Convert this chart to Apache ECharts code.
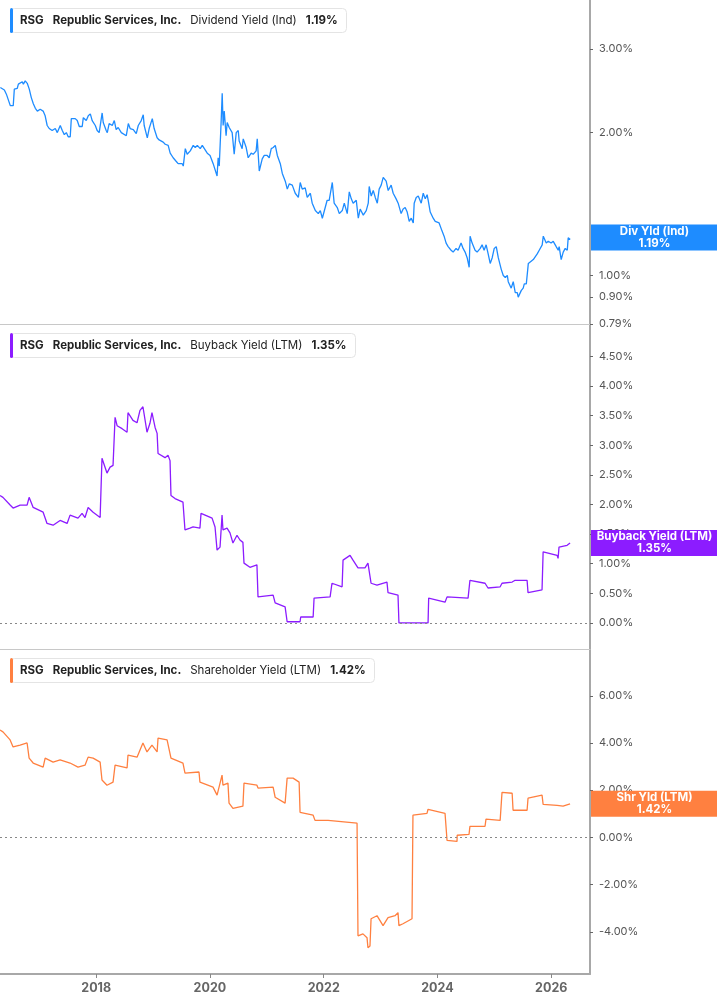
<!DOCTYPE html>
<html>
<head>
<meta charset="utf-8">
<script src="https://cdn.jsdelivr.net/npm/echarts@6/dist/echarts.min.js"></script>
<style>
  html, body { margin: 0; padding: 0; background: #fff; }
  #chart { width: 717px; height: 1005px; }
</style>
</head>
<body>
<div id="chart"></div>
<script>
var ticker = 'RSG';
var company = 'Republic Services, Inc.';

// ticks
var divTicks = [3, 2, 1, 0.9, 0.79];
var buyTicks = [0, 0.5, 1, 1.5, 2, 2.5, 3, 3.5, 4, 4.5];
var shrTicks = [-4, -2, 0, 2, 4, 6];
var yearStep = 2; // years between x labels

// Dividend Yield (Ind), %
var dividendYield = [
  ['2016-04-25', 2.49], ['2016-05-06', 2.51], ['2016-05-21', 2.46], ['2016-06-03', 2.41], ['2016-06-15', 2.40],
  ['2016-06-28', 2.28], ['2016-07-17', 2.28], ['2016-07-24', 2.47], ['2016-08-12', 2.48], ['2016-08-19', 2.53],
  ['2016-08-31', 2.51], ['2016-09-13', 2.56], ['2016-09-20', 2.53], ['2016-10-02', 2.57], ['2016-10-15', 2.54],
  ['2016-10-28', 2.47], ['2016-11-10', 2.37], ['2016-11-23', 2.30], ['2016-12-06', 2.25], ['2016-12-19', 2.22],
  ['2017-01-06', 2.24], ['2017-01-25', 2.22], ['2017-02-07', 2.17], ['2017-02-20', 2.07], ['2017-03-05', 2.04],
  ['2017-03-24', 2.02], ['2017-04-13', 2.04], ['2017-04-26', 2.00], ['2017-05-15', 2.07], ['2017-05-28', 2.02],
  ['2017-06-10', 1.98], ['2017-06-23', 2.00], ['2017-07-05', 1.96], ['2017-07-18', 1.96], ['2017-07-25', 2.14],
  ['2017-08-19', 2.14], ['2017-09-01', 2.12], ['2017-09-14', 2.06], ['2017-10-03', 2.06], ['2017-10-10', 2.15],
  ['2017-10-29', 2.12], ['2017-11-11', 2.17], ['2017-11-24', 2.19], ['2017-12-06', 2.12], ['2017-12-26', 2.07],
  ['2018-01-07', 2.02], ['2018-01-20', 2.00], ['2018-02-08', 2.20], ['2018-02-15', 2.10], ['2018-03-06', 2.02],
  ['2018-03-13', 2.00], ['2018-03-25', 2.09], ['2018-04-14', 2.07], ['2018-04-27', 2.12], ['2018-05-09', 2.03],
  ['2018-05-22', 2.05], ['2018-06-11', 2.00], ['2018-06-23', 1.99], ['2018-07-13', 1.97], ['2018-07-26', 2.09],
  ['2018-08-07', 2.04], ['2018-08-27', 2.03], ['2018-09-15', 1.99], ['2018-09-28', 2.07], ['2018-10-17', 2.12],
  ['2018-10-30', 2.18], ['2018-11-05', 2.07], ['2018-11-25', 1.95], ['2018-12-07', 2.04], ['2018-12-27', 2.14],
  ['2019-01-08', 2.04], ['2019-01-27', 1.95], ['2019-02-09', 1.93], ['2019-03-07', 1.91], ['2019-03-20', 1.89],
  ['2019-04-08', 1.88], ['2019-04-21', 1.81], ['2019-05-10', 1.77], ['2019-05-29', 1.74], ['2019-06-11', 1.72],
  ['2019-07-07', 1.72], ['2019-07-14', 1.70], ['2019-07-27', 1.85], ['2019-08-08', 1.80], ['2019-08-28', 1.83],
  ['2019-09-16', 1.88], ['2019-09-29', 1.86], ['2019-10-12', 1.88], ['2019-10-31', 1.85], ['2019-11-13', 1.88],
  ['2019-12-15', 1.81], ['2020-01-02', 1.79], ['2020-01-22', 1.72], ['2020-02-16', 1.62], ['2020-02-23', 1.77],
  ['2020-03-01', 1.70], ['2020-03-13', 2.10], ['2020-03-20', 2.42], ['2020-03-26', 2.07], ['2020-04-02', 2.22],
  ['2020-04-14', 1.97], ['2020-04-21', 2.10], ['2020-05-04', 2.05], ['2020-05-23', 2.00], ['2020-06-05', 1.80],
  ['2020-06-18', 2.00], ['2020-07-01', 2.02], ['2020-07-07', 1.92], ['2020-07-26', 1.85], ['2020-08-02', 1.94],
  ['2020-08-21', 1.86], ['2020-09-03', 1.77], ['2020-09-22', 1.81], ['2020-10-05', 1.80], ['2020-10-24', 1.83],
  ['2020-10-31', 1.94], ['2020-11-13', 1.66], ['2020-12-02', 1.76], ['2020-12-15', 1.79], ['2021-01-03', 1.79],
  ['2021-01-16', 1.77], ['2021-01-29', 1.85], ['2021-02-11', 1.86], ['2021-02-24', 1.88], ['2021-03-09', 1.79],
  ['2021-03-28', 1.72], ['2021-04-10', 1.64], ['2021-04-29', 1.58], ['2021-05-12', 1.52], ['2021-05-25', 1.56],
  ['2021-06-13', 1.55], ['2021-07-02', 1.49], ['2021-07-22', 1.46], ['2021-08-03', 1.57], ['2021-08-16', 1.52],
  ['2021-09-04', 1.53], ['2021-09-17', 1.46], ['2021-10-07', 1.49], ['2021-10-19', 1.42], ['2021-11-08', 1.37],
  ['2021-11-27', 1.35], ['2021-12-10', 1.37], ['2021-12-23', 1.32], ['2022-01-04', 1.32], ['2022-01-23', 1.44],
  ['2022-02-05', 1.44], ['2022-02-25', 1.57], ['2022-03-09', 1.42], ['2022-03-29', 1.39], ['2022-04-11', 1.35],
  ['2022-04-30', 1.37], ['2022-05-13', 1.42], ['2022-06-01', 1.35], ['2022-06-14', 1.50], ['2022-06-27', 1.45],
  ['2022-07-09', 1.42], ['2022-07-29', 1.44], ['2022-08-11', 1.32], ['2022-08-23', 1.38], ['2022-09-12', 1.34],
  ['2022-10-01', 1.37], ['2022-10-14', 1.42], ['2022-10-20', 1.54], ['2022-11-02', 1.47], ['2022-11-15', 1.51],
  ['2022-11-28', 1.46], ['2022-12-11', 1.42], ['2022-12-23', 1.52], ['2023-01-05', 1.55], ['2023-01-18', 1.61],
  ['2023-02-06', 1.58], ['2023-02-19', 1.51], ['2023-03-10', 1.55], ['2023-03-23', 1.49], ['2023-04-11', 1.45],
  ['2023-04-24', 1.42], ['2023-05-13', 1.35], ['2023-05-26', 1.38], ['2023-06-08', 1.39], ['2023-06-21', 1.36],
  ['2023-07-04', 1.30], ['2023-07-17', 1.32], ['2023-07-30', 1.29], ['2023-08-05', 1.42], ['2023-08-18', 1.46],
  ['2023-08-31', 1.47], ['2023-09-19', 1.42], ['2023-10-02', 1.49], ['2023-10-15', 1.45], ['2023-10-27', 1.48],
  ['2023-11-03', 1.44], ['2023-11-16', 1.36], ['2023-12-05', 1.32], ['2023-12-18', 1.30], ['2023-12-30', 1.29],
  ['2024-01-12', 1.29], ['2024-01-31', 1.24], ['2024-02-13', 1.21], ['2024-02-26', 1.17], ['2024-03-10', 1.15],
  ['2024-03-29', 1.13], ['2024-04-11', 1.12], ['2024-04-30', 1.14], ['2024-05-13', 1.13], ['2024-06-01', 1.17],
  ['2024-06-14', 1.14], ['2024-06-27', 1.12], ['2024-07-10', 1.09], ['2024-07-23', 1.04], ['2024-07-29', 1.21],
  ['2024-08-11', 1.17], ['2024-08-30', 1.13], ['2024-09-12', 1.12], ['2024-10-02', 1.14], ['2024-10-14', 1.16],
  ['2024-10-27', 1.13], ['2024-11-09', 1.16], ['2024-11-22', 1.11], ['2024-12-05', 1.06], ['2024-12-18', 1.09],
  ['2024-12-31', 1.14], ['2025-01-13', 1.15], ['2025-01-26', 1.09], ['2025-02-14', 1.03], ['2025-02-27', 1.00],
  ['2025-03-12', 0.99], ['2025-03-25', 1.00], ['2025-03-31', 0.97], ['2025-04-19', 0.94], ['2025-05-02', 0.97],
  ['2025-05-15', 0.92], ['2025-05-28', 0.92], ['2025-06-03', 0.90], ['2025-06-23', 0.93], ['2025-07-05', 0.94],
  ['2025-07-12', 0.96], ['2025-07-25', 0.96], ['2025-08-07', 1.06], ['2025-08-19', 1.06], ['2025-09-08', 1.08],
  ['2025-09-20', 1.09], ['2025-10-03', 1.11], ['2025-10-16', 1.13], ['2025-11-04', 1.16], ['2025-11-11', 1.21],
  ['2025-11-30', 1.17], ['2025-12-13', 1.18], ['2025-12-31', 1.17], ['2026-01-14', 1.18], ['2026-02-02', 1.15],
  ['2026-02-15', 1.13], ['2026-02-21', 1.15], ['2026-03-06', 1.08], ['2026-03-19', 1.12], ['2026-04-01', 1.14],
  ['2026-04-14', 1.13], ['2026-04-20', 1.20], ['2026-05-03', 1.19]
];

// Buyback Yield (LTM), %
var buybackYield = [
  ['2016-04-23', 2.15], ['2016-05-12', 2.12], ['2016-06-27', 1.99], ['2016-07-16', 1.94], ['2016-08-30', 1.99],
  ['2016-10-14', 1.99], ['2016-10-27', 2.12], ['2016-11-22', 1.95], ['2017-01-25', 1.87], ['2017-02-19', 1.68],
  ['2017-03-30', 1.65], ['2017-05-14', 1.73], ['2017-06-28', 1.68], ['2017-07-17', 1.82], ['2017-09-06', 1.77],
  ['2017-10-02', 1.85], ['2017-10-21', 1.78], ['2017-11-10', 1.95], ['2017-12-12', 1.87], ['2018-01-26', 1.78],
  ['2018-02-07', 2.78], ['2018-03-11', 2.53], ['2018-03-31', 2.63], ['2018-04-19', 2.66], ['2018-05-02', 3.47],
  ['2018-05-15', 3.33], ['2018-06-16', 3.28], ['2018-07-18', 3.22], ['2018-07-24', 3.55], ['2018-08-25', 3.42],
  ['2018-09-20', 3.38], ['2018-10-09', 3.59], ['2018-10-28', 3.65], ['2018-11-23', 3.22], ['2018-12-12', 3.37],
  ['2018-12-25', 3.55], ['2019-01-14', 3.30], ['2019-01-27', 3.20], ['2019-02-02', 2.86], ['2019-03-19', 2.79],
  ['2019-04-07', 2.83], ['2019-04-20', 2.74], ['2019-04-26', 2.15], ['2019-05-22', 2.10], ['2019-07-12', 2.04],
  ['2019-07-25', 1.57], ['2019-08-26', 1.60], ['2019-09-15', 1.62], ['2019-10-29', 1.60], ['2019-11-05', 1.85],
  ['2020-01-15', 1.77], ['2020-02-03', 1.62], ['2020-02-16', 1.23], ['2020-03-06', 1.28], ['2020-03-19', 1.82],
  ['2020-03-25', 1.57], ['2020-04-20', 1.60], ['2020-05-09', 1.52], ['2020-05-28', 1.35], ['2020-06-23', 1.48],
  ['2020-07-12', 1.40], ['2020-07-31', 1.36], ['2020-08-07', 1.01], ['2020-09-14', 0.94], ['2020-10-29', 0.98],
  ['2020-11-05', 0.44], ['2021-02-10', 0.47], ['2021-02-23', 0.34], ['2021-04-28', 0.27], ['2021-05-11', 0.02],
  ['2021-08-02', 0.02], ['2021-08-06', 0.10], ['2021-10-25', 0.10], ['2021-10-31', 0.42], ['2022-02-11', 0.44],
  ['2022-02-23', 0.67], ['2022-04-29', 0.61], ['2022-05-05', 1.06], ['2022-06-19', 1.14], ['2022-07-08', 1.06],
  ['2022-08-09', 0.93], ['2022-09-23', 0.93], ['2022-10-12', 1.01], ['2022-11-01', 0.67], ['2022-12-09', 0.64],
  ['2023-02-11', 0.69], ['2023-02-18', 0.51], ['2023-04-23', 0.47], ['2023-04-29', 0.00], ['2023-11-02', 0.00],
  ['2023-11-06', 0.42], ['2024-02-19', 0.35], ['2024-03-03', 0.44], ['2024-07-16', 0.42], ['2024-07-28', 0.72],
  ['2024-11-02', 0.67], ['2024-11-21', 0.59], ['2025-02-07', 0.61], ['2025-02-19', 0.67], ['2025-04-25', 0.69],
  ['2025-05-14', 0.72], ['2025-07-30', 0.72], ['2025-08-05', 0.51], ['2025-11-03', 0.56], ['2025-11-10', 1.20],
  ['2026-02-08', 1.14], ['2026-02-14', 1.09], ['2026-02-20', 1.28], ['2026-04-13', 1.31], ['2026-05-02', 1.35]
];

// Shareholder Yield (LTM), %
var shareholderYield = [
  ['2016-04-23', 4.55], ['2016-05-12', 4.47], ['2016-06-27', 4.13], ['2016-07-16', 3.83], ['2016-08-30', 3.91],
  ['2016-10-14', 4.00], ['2016-10-27', 3.36], ['2016-11-22', 3.15], ['2017-01-25', 2.98], ['2017-02-07', 3.36],
  ['2017-03-30', 3.19], ['2017-05-14', 3.28], ['2017-07-17', 3.15], ['2017-09-06', 2.98], ['2017-10-21', 3.06],
  ['2017-11-10', 3.40], ['2017-12-12', 3.36], ['2018-01-26', 3.19], ['2018-02-07', 2.43], ['2018-03-11', 2.21],
  ['2018-04-19', 2.34], ['2018-05-02', 3.06], ['2018-07-18', 2.94], ['2018-07-24', 3.49], ['2018-09-20', 3.40],
  ['2018-10-28', 4.00], ['2018-11-23', 3.62], ['2018-12-25', 3.91], ['2019-01-27', 3.62], ['2019-02-02', 4.21],
  ['2019-04-01', 4.13], ['2019-04-07', 4.21], ['2019-04-26', 3.36], ['2019-07-12', 3.15], ['2019-07-25', 2.72],
  ['2019-10-23', 2.77], ['2019-10-29', 2.34], ['2020-01-21', 2.13], ['2020-02-16', 1.79], ['2020-03-19', 2.64],
  ['2020-03-25', 2.21], ['2020-04-26', 2.30], ['2020-05-03', 1.45], ['2020-05-28', 1.23], ['2020-07-31', 1.32],
  ['2020-08-07', 2.30], ['2020-10-29', 2.21], ['2020-11-05', 2.09], ['2021-02-10', 2.13], ['2021-02-23', 1.70],
  ['2021-04-28', 1.45], ['2021-05-11', 2.51], ['2021-06-18', 2.51], ['2021-07-27', 2.34], ['2021-08-02', 1.06],
  ['2021-10-25', 0.94], ['2021-11-06', 0.72], ['2022-01-29', 0.72], ['2022-08-03', 0.60], ['2022-08-09', -4.17],
  ['2022-09-10', -4.09], ['2022-10-06', -4.25], ['2022-10-12', -4.68], ['2022-10-25', -4.60], ['2022-11-01', -3.45],
  ['2022-12-09', -3.32], ['2023-01-17', -3.74], ['2023-02-18', -3.40], ['2023-04-04', -3.32], ['2023-04-23', -3.19],
  ['2023-04-29', -3.74], ['2023-05-25', -3.66], ['2023-07-22', -3.45], ['2023-07-28', 0.94], ['2023-10-26', 1.02],
  ['2023-11-02', 1.19], ['2024-02-19', 1.02], ['2024-03-03', -0.13], ['2024-05-06', -0.17], ['2024-05-07', 0.09],
  ['2024-07-22', 0.13], ['2024-07-28', 0.47], ['2024-11-02', 0.47], ['2024-11-08', 0.77], ['2025-02-07', 0.72],
  ['2025-02-19', 1.91], ['2025-04-25', 1.87], ['2025-05-01', 1.15], ['2025-07-30', 1.15], ['2025-08-05', 1.66],
  ['2025-11-03', 1.79], ['2025-11-10', 1.40], ['2026-02-08', 1.36], ['2026-03-18', 1.32], ['2026-05-02', 1.42]
];

var BLUE = '#1e8cff', PURPLE = '#8c1cff', ORANGE = '#ff8040';
var FONT = 'Inter, "Noto Sans", sans-serif';
var DAY = 24 * 3600 * 1000;
var last = function (arr) { return arr[arr.length - 1][1]; };
var pct = function (v) { return v.toFixed(2) + '%'; };

function legendTitle(top, color, metric, value) {
  return {
    left: 10,
    top: top,
    text: '{bar|}{g7|}{b|' + ticker + '}{g|}{b|' + company + '}{g|}{n|' + metric + '}{g|}{b|' + value + '}',
    backgroundColor: '#fff',
    borderColor: '#e4e4e4',
    borderWidth: 1,
    borderRadius: 4,
    padding: [0, 9, 0, 0],
    textStyle: {
      rich: {
        bar: { width: 3, height: 25, backgroundColor: color, borderRadius: 2 },
        g7: { width: 7 },
        g: { width: 9 },
        b: { fontFamily: FONT, fontWeight: 'bold', fontSize: 11.5, color: '#222', lineHeight: 25 },
        n: { fontFamily: FONT, fontWeight: 'normal', fontSize: 11.5, color: '#222', lineHeight: 25 }
      }
    }
  };
}

function endBox(yValue, color, name, value) {
  return {
    yAxis: yValue,
    lineStyle: { color: 'transparent', width: 0 },
    label: {
      show: true,
      position: 'end',
      distance: 1,
      formatter: '{t|' + name + '}\n{t|' + value + '}',
      backgroundColor: color,
      padding: [1, 0, 1, 0],
      rich: {
        t: { width: 127, align: 'center', color: '#fff', fontWeight: 'bold', fontSize: 11.5, lineHeight: 12, fontFamily: FONT }
      }
    }
  };
}

var zeroLine = {
  yAxis: 0,
  lineStyle: { color: '#888', width: 1, type: [2, 3] },
  label: { show: false }
};

function xAxisFor(i) {
  var bottom = i === 2;
  return {
    type: 'time',
    gridIndex: i,
    min: '2016-04-23',
    max: '2026-09-07',
    minInterval: yearStep * 365 * DAY,
    maxInterval: yearStep * 366 * DAY,
    axisLine: { show: true, onZero: false, lineStyle: { color: bottom ? '#a8a8a8' : '#c8c8c8', width: bottom ? 2 : 1 } },
    axisTick: { show: bottom, length: 4, lineStyle: { color: '#888' } },
    axisLabel: {
      show: bottom,
      margin: 8,
      color: '#666',
      fontWeight: 'bold',
      fontSize: 12.5,
      fontFamily: FONT,
      formatter: '{yyyy}'
    },
    splitLine: { show: false }
  };
}

function yAxisFor(i, min, max, ticks, fmt) {
  return {
    type: 'value',
    gridIndex: i,
    position: 'right',
    min: min,
    max: max,
    axisLine: { show: true, lineStyle: { color: '#a8a8a8', width: 2 } },
    axisTick: { show: true, length: 3, customValues: ticks, lineStyle: { color: '#666' } },
    axisLabel: {
      customValues: ticks,
      margin: 9,
      color: '#555',
      fontSize: 11,
      fontFamily: FONT,
      formatter: fmt
    },
    splitLine: { show: false }
  };
}

var chart = echarts.init(document.getElementById('chart'));

var option = {
  backgroundColor: '#fff',
  animation: false,
  title: [
    legendTitle(8, BLUE, 'Dividend Yield (Ind)', pct(last(dividendYield))),
    legendTitle(333, PURPLE, 'Buyback Yield (LTM)', pct(last(buybackYield))),
    legendTitle(658, ORANGE, 'Shareholder Yield (LTM)', pct(last(shareholderYield)))
  ],
  grid: [
    { left: 0, right: 127, top: 0, height: 324, outerBoundsMode: 'none' },
    { left: 0, right: 127, top: 325, height: 324, outerBoundsMode: 'none' },
    { left: 0, right: 127, top: 650, height: 324, outerBoundsMode: 'none' }
  ],
  xAxis: [xAxisFor(0), xAxisFor(1), xAxisFor(2)],
  yAxis: [
    // log scale drawn on log10 values
    yAxisFor(0, Math.log10(0.79), Math.log10(3.806), divTicks.map(function (v) { return Math.log10(v); }),
      function (v) { return pct(Math.pow(10, v)); }),
    yAxisFor(1, -0.44, 5.03, buyTicks, pct),
    yAxisFor(2, -5.79, 7.94, shrTicks, pct)
  ],
  series: [
    {
      type: 'line',
      xAxisIndex: 0,
      yAxisIndex: 0,
      data: dividendYield.map(function (d) { return [d[0], Math.log10(d[1])]; }),
      showSymbol: false,
      lineStyle: { color: BLUE, width: 1.3 },
      itemStyle: { color: BLUE },
      markLine: {
        silent: true,
        symbol: 'none',
        data: [endBox(Math.log10(last(dividendYield)), BLUE, 'Div Yld (Ind)', pct(last(dividendYield)))]
      }
    },
    {
      type: 'line',
      xAxisIndex: 1,
      yAxisIndex: 1,
      data: buybackYield,
      showSymbol: false,
      lineStyle: { color: PURPLE, width: 1.3 },
      itemStyle: { color: PURPLE },
      markLine: {
        silent: true,
        symbol: 'none',
        data: [zeroLine, endBox(last(buybackYield), PURPLE, 'Buyback Yield (LTM)', pct(last(buybackYield)))]
      }
    },
    {
      type: 'line',
      xAxisIndex: 2,
      yAxisIndex: 2,
      data: shareholderYield,
      showSymbol: false,
      lineStyle: { color: ORANGE, width: 1.3 },
      itemStyle: { color: ORANGE },
      markLine: {
        silent: true,
        symbol: 'none',
        data: [zeroLine, endBox(last(shareholderYield), ORANGE, 'Shr Yld (LTM)', pct(last(shareholderYield)))]
      }
    }
  ]
};

chart.setOption(option);
</script>
</body>
</html>
